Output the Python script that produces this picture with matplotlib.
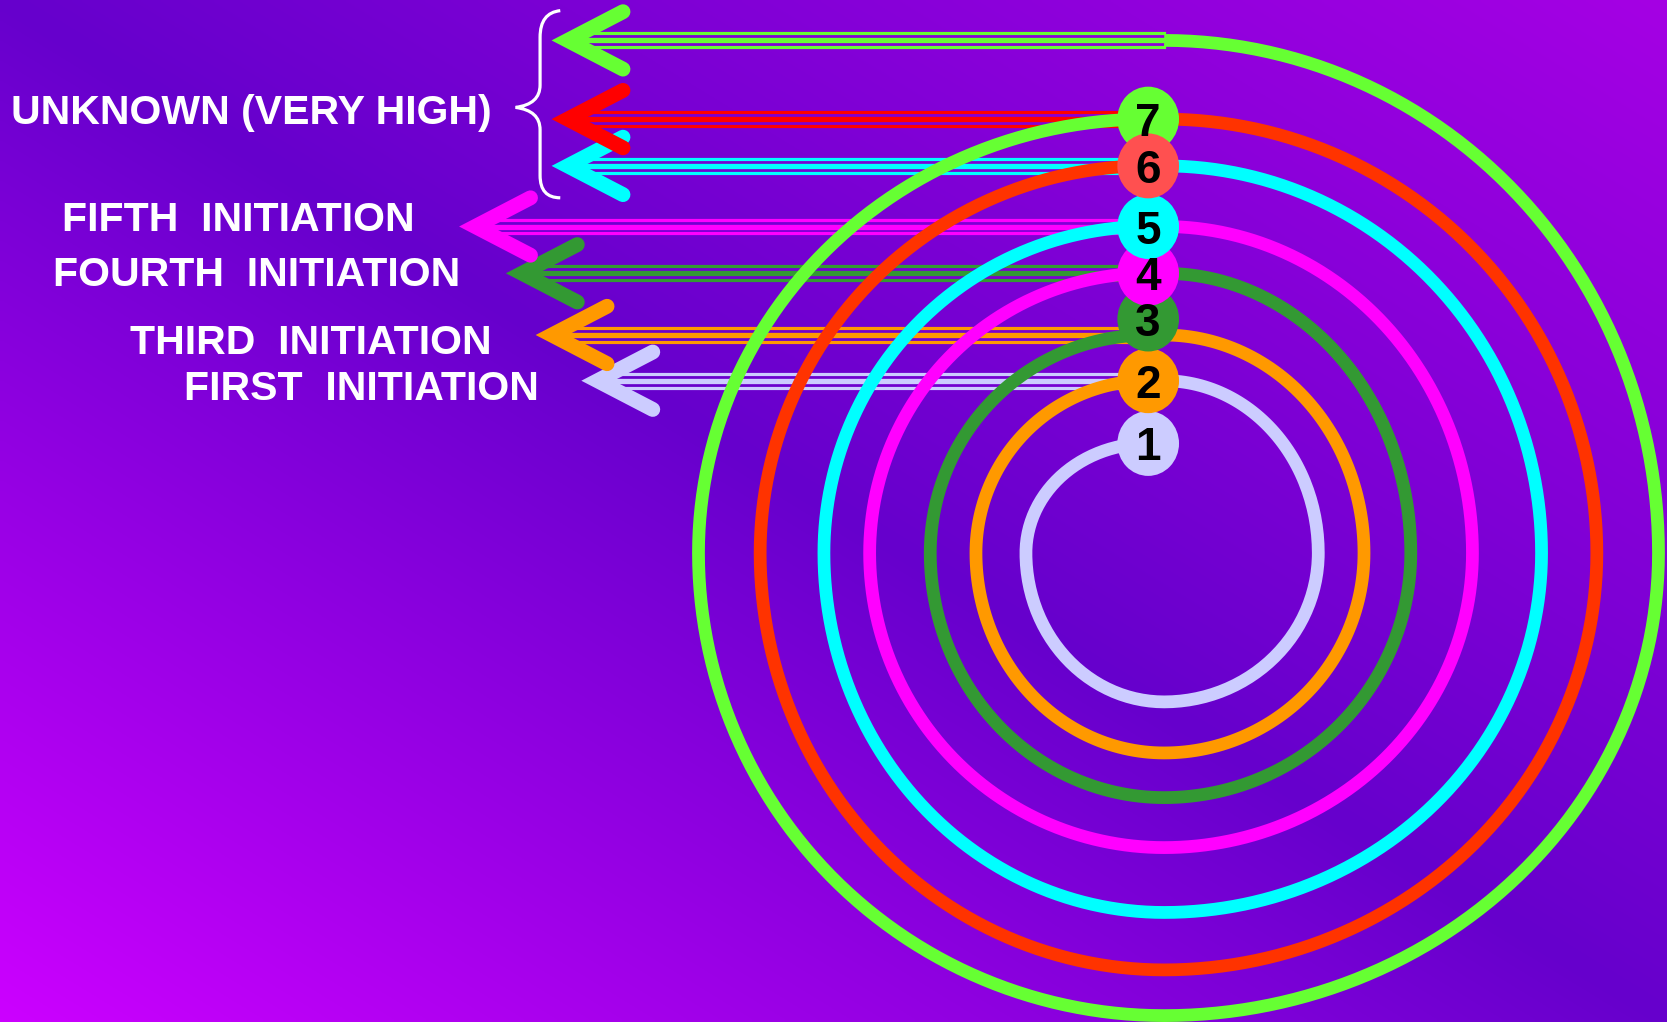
import numpy as np
import matplotlib.pyplot as plt
from matplotlib import font_manager as fm
from matplotlib.patches import Ellipse, PathPatch
from matplotlib.path import Path

W, H = 1568, 961
PT = 0.7654  # one canvas unit in points

# spiral loops, inner to outer
loop_colors = ['#CCCCFF', '#FF9900', '#339933', '#FF00FF', '#00FFFF', '#FF3300', '#66FF33']
loop_start_y = [417, 358, 315, 257, 213, 156, 112]
loop_end_y = [358, 315, 257, 213, 156, 112, 38]
loop_left_x = [965, 918, 875, 818, 775, 715, 657]
loop_bottom_y = [660, 708, 750, 797, 858, 912, 955]
loop_right_x = [1240, 1283, 1327, 1385, 1450, 1502, 1560]
loop_side_y = 520
loop_bottom_x = 1095

# numbered nodes
node_labels = ['1', '2', '3', '4', '5', '6', '7']
node_y = [417, 358, 300, 257, 213, 156, 112]
node_colors = ['#CCCCFF', '#FF9900', '#339933', '#FF00FF', '#00FFFF', '#FF5050', '#66FF33']
node_x = 1080

# arrows pointing left, top to bottom
arrow_y = [38, 112, 156, 213, 257, 315, 358]
arrow_tip_x = [530, 530, 530, 443, 487, 515, 558]
arrow_end_x = [1095, 1080, 1080, 1080, 1080, 1080, 1080]
arrow_colors = ['#66FF33', '#FF0000', '#00FFFF', '#FF00FF', '#339933', '#FF9900', '#CCCCFF']

labels = ['UNKNOWN (VERY HIGH)', 'FIFTH  INITIATION', 'FOURTH  INITIATION',
          'THIRD  INITIATION', 'FIRST  INITIATION']
label_x = [10, 58, 50, 122, 173]
label_base_y = [117, 217, 269, 333, 376]

fig = plt.figure(figsize=(16.67, 10.22), dpi=100)
ax = fig.add_axes([0, 0, 1, 1])
ax.set_xlim(0, W)
ax.set_ylim(H, 0)
ax.axis('off')

# background gradient: bright bottom-left, dark diagonal, lighter top-right
gx, gy = np.meshgrid(np.linspace(0, 1, 320), np.linspace(0, 1, 200))
t = (gx + (1 - gy)) / 2
c0 = np.array([204, 0, 255]) / 255
cm = np.array([102, 0, 204]) / 255
c1 = np.array([165, 0, 228]) / 255
lo = np.clip(t / 0.5, 0, 1)[..., None]
hi = np.clip((t - 0.5) / 0.5, 0, 1)[..., None]
img = np.where(t[..., None] < 0.5, c0 + (cm - c0) * lo, cm + (c1 - cm) * hi)
ax.imshow(img, extent=(0, W, H, 0), aspect='auto', interpolation='bilinear', zorder=0)

# arrows
for i in reversed(range(len(arrow_y))):
    y, tip, c = arrow_y[i], arrow_tip_x[i], arrow_colors[i]
    x0 = tip + 12
    x1 = arrow_end_x[i]
    ax.plot([x0, x1], [y - 6.5, y - 6.5], color=c, lw=3 * PT, zorder=1)
    ax.plot([x0, x1], [y, y], color=c, lw=5 * PT, zorder=1)
    ax.plot([x0, x1], [y + 6.5, y + 6.5], color=c, lw=3 * PT, zorder=1)
    ax.plot([tip + 56, tip + 4, tip + 56], [y - 27, y, y + 27], color=c, lw=14 * PT,
            solid_capstyle='round', solid_joinstyle='miter', zorder=1)

# spiral loops made of quarter ellipses
th = np.linspace(0, np.pi / 2, 60)
for k in range(len(loop_colors)):
    sx, sy = node_x, loop_start_y[k]
    lx, ly = loop_left_x[k], loop_side_y
    bx, by = loop_bottom_x, loop_bottom_y[k]
    rx, ry = loop_right_x[k], loop_side_y
    ex, ey = loop_bottom_x, loop_end_y[k]
    xs = np.concatenate([
        sx - (sx - lx) * np.sin(th),
        bx - (bx - lx) * np.cos(th),
        bx + (rx - bx) * np.sin(th),
        ex + (rx - ex) * np.cos(th),
    ])
    ys = np.concatenate([
        ly - (ly - sy) * np.cos(th),
        ly + (by - ly) * np.sin(th),
        ry + (by - ry) * np.cos(th),
        ry - (ry - ey) * np.sin(th),
    ])
    ax.plot(xs, ys, color=loop_colors[k], lw=12 * PT, solid_capstyle='butt', zorder=2)

# brace
verts = [(527, 10), (508, 12), (508, 35), (508, 80), (508, 98), (485, 101),
         (508, 104), (508, 122), (508, 165), (508, 186), (527, 186)]
codes = [Path.MOVETO, Path.CURVE3, Path.CURVE3, Path.LINETO, Path.CURVE3, Path.CURVE3,
         Path.CURVE3, Path.CURVE3, Path.LINETO, Path.CURVE3, Path.CURVE3]
ax.add_patch(PathPatch(Path(verts, codes), facecolor='none', edgecolor='white',
                       lw=3 * PT, zorder=3))

# labels
for s, x, y in zip(labels, label_x, label_base_y):
    ax.text(x, y, s, color='white', fontsize=29.5, fontweight='bold',
            family='Liberation Sans', ha='left', va='baseline', zorder=4)

# nodes
names = {f.name for f in fm.fontManager.ttflist}
digit_font = 'Liberation Sans Narrow' if 'Liberation Sans Narrow' in names else 'Liberation Sans'
for i in [0, 1, 2, 3, 4, 6, 5]:
    ax.add_patch(Ellipse((node_x, node_y[i]), 58, 61, facecolor=node_colors[i],
                         edgecolor='none', zorder=5))
    ax.text(node_x, node_y[i] + 16, node_labels[i], color='black', fontsize=33,
            fontweight='bold', family=digit_font, ha='center', va='baseline', zorder=6)

fig.savefig('out.png', dpi=100)
